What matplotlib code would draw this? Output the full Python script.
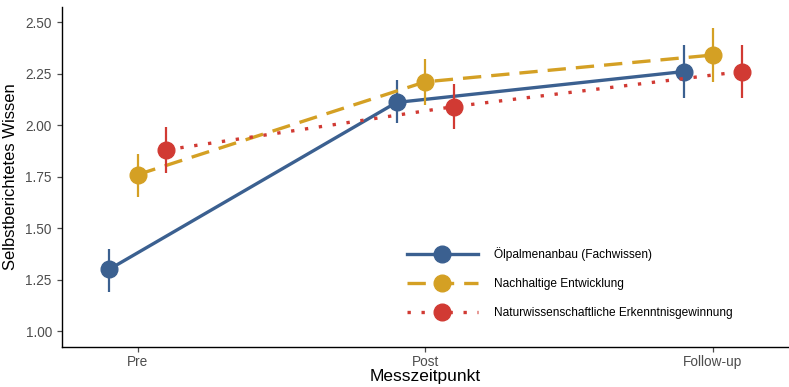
import matplotlib
matplotlib.use("Agg")
import matplotlib.pyplot as plt
import numpy as np

plt.rcParams["font.family"] = ["Liberation Sans", "DejaVu Sans"]

# Messzeitpunkte
categories = ["Pre", "Post", "Follow-up"]

series_names = [
    "Ölpalmenanbau (Fachwissen)",
    "Nachhaltige Entwicklung",
    "Naturwissenschaftliche Erkenntnisgewinnung",
]

# Mittelwerte
mean_fach = [1.30, 2.11, 2.26]
mean_ne = [1.76, 2.21, 2.34]
mean_nwe = [1.88, 2.09, 2.26]

# Fehlerbalken (untere / obere Grenze)
low_fach = [1.19, 2.01, 2.13]
high_fach = [1.40, 2.22, 2.39]
low_ne = [1.65, 2.10, 2.21]
high_ne = [1.86, 2.32, 2.47]
low_nwe = [1.77, 1.98, 2.13]
high_nwe = [1.99, 2.20, 2.39]

yticks = [1.00, 1.25, 1.50, 1.75, 2.00, 2.25, 2.50]

colors = ["#3B6090", "#D4A024", "#D13A33"]
dodge = [-0.1, 0.0, 0.1]
line_kw = [
    dict(linestyle="-"),
    dict(linestyle=(0, (5.5, 3.0))),
    dict(linestyle=(0, (1.0, 3.2))),
]

fig = plt.figure(figsize=(7.89, 3.87), dpi=100)
ax = fig.add_axes([0.078, 0.104, 0.922, 0.879])

x = np.arange(1, len(categories) + 1)
means = [mean_fach, mean_ne, mean_nwe]
lows = [low_fach, low_ne, low_nwe]
highs = [high_fach, high_ne, high_nwe]

handles = []
for i in range(3):
    xs = x + dodge[i]
    m = np.array(means[i])
    yerr = [m - np.array(lows[i]), np.array(highs[i]) - m]
    cont = ax.errorbar(xs, m, yerr=yerr, color=colors[i], lw=2.4,
                       marker="o", markersize=12, elinewidth=1.6,
                       capsize=0, zorder=3 + i, **line_kw[i])
    handles.append(cont)

ax.set_xlim(1 - 0.265, 3 + 0.265)
ax.set_ylim(0.925, 2.575)
ax.set_xticks(x)
ax.set_xticklabels(categories)
ax.set_yticks(yticks)
ax.set_yticklabels([f"{v:.2f}" for v in yticks])

ax.tick_params(colors="#4D4D4D", labelsize=9.8, length=3.5, width=0.9)
ax.tick_params(axis="x", pad=2.5)
for s in ["top", "right"]:
    ax.spines[s].set_visible(False)
for s in ["left", "bottom"]:
    ax.spines[s].set_linewidth(1.0)
    ax.spines[s].set_color("black")

ax.set_xlabel("Messzeitpunkt", fontsize=12.5, labelpad=0)
ax.set_ylabel("Selbstberichtetes Wissen", fontsize=12, labelpad=5)

ax.legend(handles, series_names, loc="center left",
          bbox_to_anchor=(0.475, 0.187), frameon=False, fontsize=8.6,
          handlelength=5.9, handletextpad=1.35, labelspacing=1.45,
          borderpad=0, borderaxespad=0)

fig.savefig("out.png", dpi=100)
